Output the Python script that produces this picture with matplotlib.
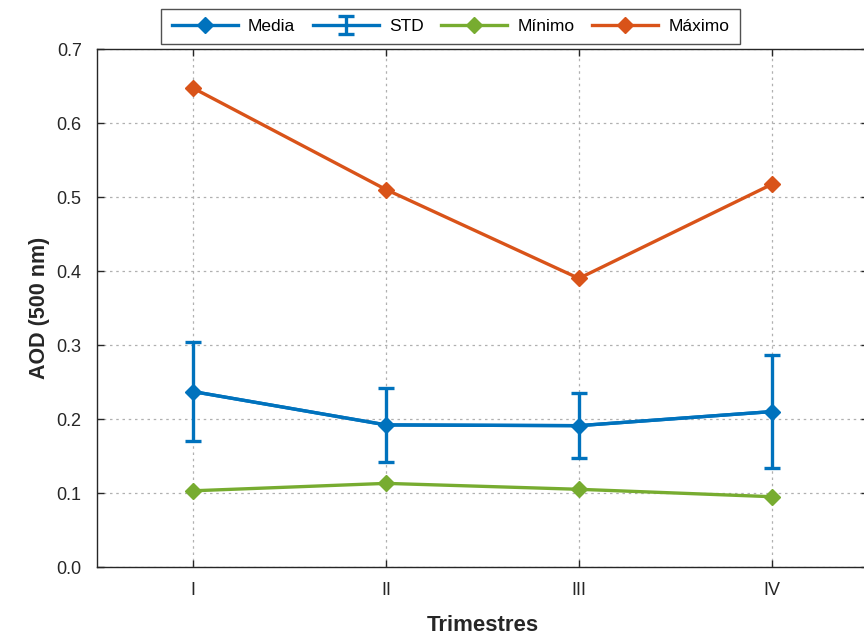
import matplotlib
matplotlib.use("Agg")
import matplotlib.pyplot as plt
import numpy as np

trimestres = ["I", "II", "III", "IV"]
media = [0.237, 0.192, 0.191, 0.210]
std = [0.067, 0.050, 0.044, 0.076]
minimo = [0.103, 0.113, 0.105, 0.095]
maximo = [0.647, 0.510, 0.390, 0.517]

plt.rcParams['font.family'] = ['Liberation Sans', 'DejaVu Sans']

blue = "#0072BD"
orange = "#D95319"
green = "#77AC30"

fig = plt.figure(figsize=(8.64, 6.41), dpi=100)
ax = fig.add_axes([97/864, 74/641, 771/864, 518/641])

x = np.arange(1, len(trimestres) + 1)
lw = 2.4
ms = 8.5

ax.errorbar(x, media, yerr=std, color=blue, lw=lw, elinewidth=lw, capsize=6,
            capthick=lw, label="STD", zorder=3)
ax.plot(x, media, color=blue, lw=lw, marker="D", ms=ms, label="Media", zorder=4)
ax.plot(x, minimo, color=green, lw=lw, marker="D", ms=ms, label="Mínimo", zorder=4)
ax.plot(x, maximo, color=orange, lw=lw, marker="D", ms=ms, label="Máximo", zorder=4)

ax.set_xlim(0.5, 4.5)
ax.set_ylim(0, 0.7)
ax.set_xticks(x)
ax.set_xticklabels(trimestres)
ax.set_yticks(np.arange(0, 0.71, 0.1))
ax.set_yticklabels([f"{v:.1f}" for v in np.arange(0, 0.71, 0.1)])
ax.tick_params(direction="in", top=True, right=True, labelsize=13,
               colors="#262626", length=5, width=1, pad=11)
ax.grid(True, linestyle=(0, (2, 3)), color="#b0b0b0", lw=0.9)
for s in ax.spines.values():
    s.set_color("#262626")
    s.set_linewidth(1.0)

ax.set_xlabel("Trimestres", fontsize=16, fontweight="bold", color="#262626", labelpad=11)
ax.set_ylabel("AOD (500 nm)", fontsize=15.5, fontweight="bold", color="#262626", labelpad=5)

handles, labels = ax.get_legend_handles_labels()
order = [labels.index(l) for l in ["Media", "STD", "Mínimo", "Máximo"]]
leg = fig.legend([handles[i] for i in order], [labels[i] for i in order],
                 loc="center", bbox_to_anchor=(450.5/864, 1 - 26.5/641), ncol=4,
                 fontsize=12.5, frameon=True, fancybox=False, edgecolor="#262626",
                 handlelength=3.8, handletextpad=0.6, columnspacing=1.0,
                 borderpad=0.6)
leg.get_frame().set_linewidth(1.0)

fig.savefig("out.png", dpi=100)
